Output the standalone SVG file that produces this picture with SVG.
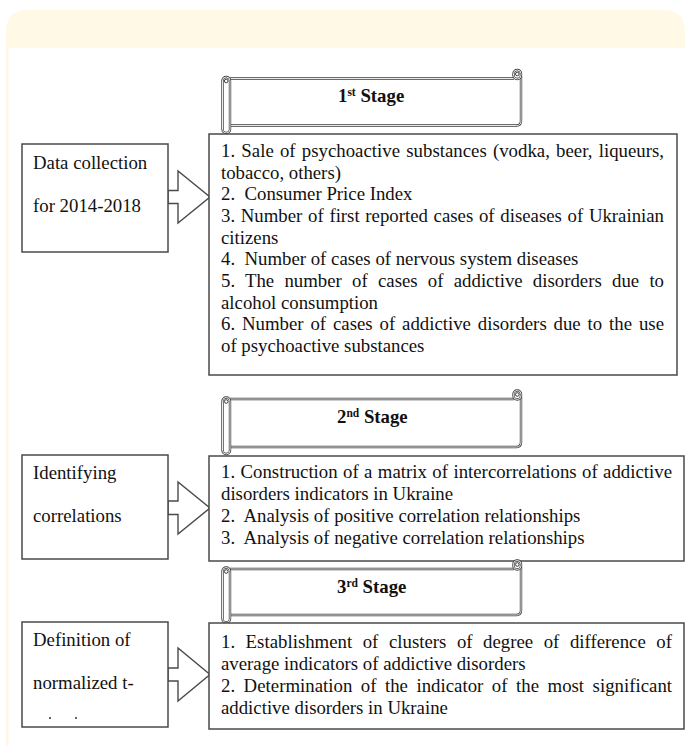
<svg xmlns="http://www.w3.org/2000/svg" width="690" height="746" viewBox="0 0 690 746">
<defs>
<style>
.box{fill:#fff;stroke:#4a4a4a;stroke-width:1.5}
.arr{fill:#fff;stroke:#4a4a4a;stroke-width:1.4;stroke-linejoin:miter}
text{font-family:'Liberation Serif','Times New Roman',Times,'DejaVu Serif','Noto Serif',serif}
.t{font-size:18.8px;fill:#111}
.st{font-size:18.8px;font-weight:bold;fill:#111}
.sup{font-size:11.5px}
.so{fill:#fff;stroke:#3c3c3c;stroke-width:2.4;stroke-linejoin:round}
.si{fill:none;stroke:#fff;stroke-width:0.9}
.sc{fill:#fff;stroke:#3c3c3c;stroke-width:1}
</style>
</defs>
<rect x="6" y="10" width="679" height="800" rx="22" fill="#fff"/>
<path d="M6,48 V32 Q6,10 28,10 H663 Q685,10 685,32 V48 Z" fill="#FFF9E6"/>
<line x1="7.5" y1="48" x2="7.5" y2="746" stroke="#FFF6DC" stroke-width="2"/>

<g id="connectors">
<polygon class="arr" points="168,190.5 178,190.5 178,171 210,197 178,223 178,203.5 168,203.5"/>
<polygon class="arr" points="168,501 178,501 178,482 210,508 178,534 178,514.5 168,514.5"/>
<polygon class="arr" points="168,668 178,668 178,648 210,674.5 178,701 178,681 168,681"/>
</g>

<g id="stage1-label">
<path class="so" d="M230,78.5 H514 M521,76 V121 Q521,125.5 516.5,125.5 H230"/>
<path class="si" d="M230,78.5 H514 M521,76 V121 Q521,125.5 516.5,125.5 H230"/>
<rect class="so" x="513.5" y="70" width="7.5" height="9" rx="3.7"/>
<rect class="si" x="513.5" y="70" width="7.5" height="9" rx="3.7"/>
<circle class="sc" cx="517.3" cy="74" r="1.8"/>
<rect class="so" x="222.5" y="77" width="7.5" height="56" rx="3.7"/>
<rect class="si" x="222.5" y="77" width="7.5" height="56" rx="3.7"/>
<circle class="sc" cx="226.2" cy="81" r="1.8"/>
<text class="st" x="338" y="102">1<tspan class="sup" dy="-6">st</tspan><tspan dy="6"> Stage</tspan></text>
</g>

<g id="stage2-label">
<path class="so" d="M230,399 H514 M521,396.5 V442 Q521,447 516.5,447 H230"/>
<path class="si" d="M230,399 H514 M521,396.5 V442 Q521,447 516.5,447 H230"/>
<rect class="so" x="513.5" y="390.5" width="7.5" height="9" rx="3.7"/>
<rect class="si" x="513.5" y="390.5" width="7.5" height="9" rx="3.7"/>
<circle class="sc" cx="517.3" cy="394.5" r="1.8"/>
<rect class="so" x="222.5" y="397.5" width="7.5" height="56.5" rx="3.7"/>
<rect class="si" x="222.5" y="397.5" width="7.5" height="56.5" rx="3.7"/>
<circle class="sc" cx="226.2" cy="401.5" r="1.8"/>
<text class="st" x="337" y="423">2<tspan class="sup" dy="-6">nd</tspan><tspan dy="6"> Stage</tspan></text>
</g>

<g id="stage1-source">
<rect class="box" x="22" y="144" width="146" height="108"/>
<text class="t" x="33" y="169">Data collection</text>
<text class="t" x="33" y="212">for 2014-2018</text>
</g>

<g id="stage1-content">
<rect class="box" x="209" y="134" width="468" height="241"/>
<text class="t" x="221" y="157" word-spacing="1.5" textLength="443" lengthAdjust="spacing">1. Sale of psychoactive substances (vodka, beer, liqueurs,</text>
<text class="t" x="221" y="178.5">tobacco, others)</text>
<text class="t" x="221" y="200" xml:space="preserve">2.  Consumer Price Index</text>
<text class="t" x="221" y="222" word-spacing="1" textLength="443" lengthAdjust="spacing">3. Number of first reported cases of diseases of Ukrainian</text>
<text class="t" x="221" y="243.5">citizens</text>
<text class="t" x="221" y="265" xml:space="preserve">4.  Number of cases of nervous system diseases</text>
<text class="t" x="221" y="287" word-spacing="5.5" textLength="443" lengthAdjust="spacing">5. The number of cases of addictive disorders due to</text>
<text class="t" x="221" y="308.5">alcohol consumption</text>
<text class="t" x="221" y="330" word-spacing="2.2" textLength="443" lengthAdjust="spacing">6. Number of cases of addictive disorders due to the use</text>
<text class="t" x="221" y="352">of psychoactive substances</text>
</g>

<g id="stage2-source">
<rect class="box" x="22" y="455" width="146" height="104"/>
<text class="t" x="33" y="479">Identifying</text>
<text class="t" x="33" y="522">correlations</text>
</g>

<g id="stage2-content">
<rect class="box" x="209" y="456" width="475" height="105"/>
<text class="t" x="221" y="478" word-spacing="0.7" textLength="451" lengthAdjust="spacing">1. Construction of a matrix of intercorrelations of addictive</text>
<text class="t" x="221" y="500">disorders indicators in Ukraine</text>
<text class="t" x="221" y="522" xml:space="preserve">2.  Analysis of positive correlation relationships</text>
<text class="t" x="221" y="543.5" xml:space="preserve">3.  Analysis of negative correlation relationships</text>
</g>

<g id="stage3-label">
<path class="so" d="M230,569 H514 M521,566.5 V610.5 Q521,615 516.5,615 H230"/>
<path class="si" d="M230,569 H514 M521,566.5 V610.5 Q521,615 516.5,615 H230"/>
<rect class="so" x="513.5" y="560.5" width="7.5" height="9" rx="3.7"/>
<rect class="si" x="513.5" y="560.5" width="7.5" height="9" rx="3.7"/>
<circle class="sc" cx="517.3" cy="564.5" r="1.8"/>
<rect class="so" x="222.5" y="567.5" width="7.5" height="55" rx="3.7"/>
<rect class="si" x="222.5" y="567.5" width="7.5" height="55" rx="3.7"/>
<circle class="sc" cx="226.2" cy="571.5" r="1.8"/>
<text class="st" x="337" y="593">3<tspan class="sup" dy="-6">rd</tspan><tspan dy="6"> Stage</tspan></text>
</g>

<g id="stage3-source">
<rect class="box" x="22" y="622" width="146" height="105"/>
<text class="t" x="33" y="646">Definition of</text>
<text class="t" x="33" y="689">normalized t-</text>
<circle cx="50" cy="718" r="1" fill="#333"/>
<circle cx="76" cy="718" r="1" fill="#333"/>
</g>

<g id="stage3-content">
<rect class="box" x="209" y="623" width="475" height="106"/>
<text class="t" x="221" y="648" word-spacing="5.8" textLength="451" lengthAdjust="spacing">1. Establishment of clusters of degree of difference of</text>
<text class="t" x="221" y="670">average indicators of addictive disorders</text>
<text class="t" x="221" y="692" word-spacing="3.8" textLength="451" lengthAdjust="spacing">2. Determination of the indicator of the most significant</text>
<text class="t" x="221" y="713.5">addictive disorders in Ukraine</text>
</g>
</svg>
